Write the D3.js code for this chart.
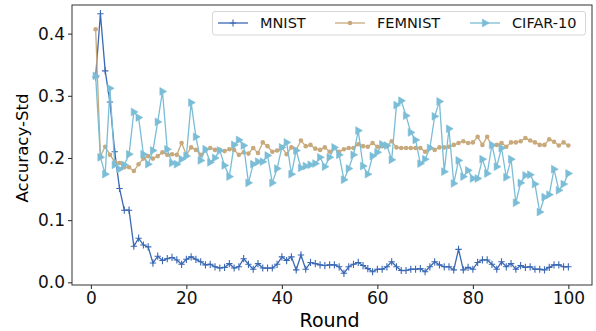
<!DOCTYPE html>
<html>
<head>
<meta charset="utf-8">
<script src="https://cdn.jsdelivr.net/npm/d3@7"></script>
<style>
  body { margin: 0; background: #fff; }
  svg { font-family: 'DejaVu Sans', sans-serif; }
</style>
</head>
<body>
<div id="chart"></div>
<script>
// rounds 1..100
const rounds = d3.range(1, 101);

const mnist = [
  0.33, 0.432, 0.34, 0.29, 0.21, 0.151, 0.116, 0.116, 0.058, 0.071,
  0.06, 0.057, 0.031, 0.042, 0.035, 0.038, 0.04, 0.036, 0.029, 0.037,
  0.041, 0.037, 0.033, 0.028, 0.029, 0.025, 0.023, 0.024, 0.030, 0.023,
  0.025, 0.038, 0.029, 0.021, 0.030, 0.023, 0.023, 0.023, 0.029, 0.041,
  0.035, 0.041, 0.020, 0.044, 0.021, 0.032, 0.030, 0.028, 0.027, 0.028,
  0.028, 0.025, 0.0145, 0.025, 0.029, 0.032, 0.027, 0.022, 0.017, 0.021,
  0.021, 0.025, 0.033, 0.025, 0.019, 0.019, 0.021, 0.021, 0.022, 0.017,
  0.025, 0.033, 0.028, 0.025, 0.025, 0.020, 0.053, 0.020, 0.024, 0.021,
  0.032, 0.036, 0.036, 0.029, 0.021, 0.033, 0.025, 0.030, 0.021, 0.027,
  0.024, 0.025, 0.021, 0.021, 0.020, 0.024, 0.028, 0.028, 0.025, 0.025
];

const femnist = [
  0.407, 0.203, 0.218, 0.205, 0.194, 0.192, 0.185, 0.185, 0.179, 0.190,
  0.199, 0.203, 0.199, 0.203, 0.209, 0.205, 0.206, 0.205, 0.224, 0.205,
  0.217, 0.213, 0.205, 0.212, 0.216, 0.213, 0.213, 0.211, 0.214, 0.213,
  0.205, 0.209, 0.207, 0.216, 0.208, 0.225, 0.219, 0.210, 0.212, 0.217,
  0.206, 0.217, 0.213, 0.228, 0.219, 0.221, 0.215, 0.213, 0.217, 0.210,
  0.216, 0.210, 0.214, 0.216, 0.216, 0.222, 0.219, 0.218, 0.224, 0.218,
  0.219, 0.219, 0.227, 0.217, 0.216, 0.216, 0.216, 0.216, 0.216, 0.210,
  0.217, 0.213, 0.217, 0.217, 0.218, 0.221, 0.224, 0.227, 0.224, 0.225,
  0.234, 0.221, 0.234, 0.219, 0.221, 0.224, 0.218, 0.225, 0.225, 0.227,
  0.232, 0.228, 0.225, 0.221, 0.221, 0.230, 0.226, 0.220, 0.225, 0.220
];

const cifar = [
  0.332, 0.201, 0.174, 0.312, 0.189, 0.182, 0.189, 0.206, 0.274, 0.265,
  0.206, 0.190, 0.212, 0.258, 0.307, 0.214, 0.192, 0.190, 0.198, 0.203,
  0.289, 0.234, 0.196, 0.214, 0.193, 0.200, 0.212, 0.188, 0.170, 0.221,
  0.229, 0.220, 0.160, 0.190, 0.194, 0.194, 0.204, 0.160, 0.183, 0.217,
  0.225, 0.174, 0.212, 0.184, 0.187, 0.189, 0.191, 0.201, 0.186, 0.201,
  0.217, 0.205, 0.165, 0.183, 0.205, 0.244, 0.187, 0.174, 0.203, 0.209,
  0.222, 0.220, 0.197, 0.285, 0.292, 0.268, 0.241, 0.229, 0.191, 0.198,
  0.216, 0.267, 0.291, 0.178, 0.247, 0.159, 0.196, 0.170, 0.180, 0.167,
  0.167, 0.198, 0.175, 0.221, 0.186, 0.216, 0.169, 0.198, 0.128, 0.160,
  0.172, 0.173, 0.158, 0.113, 0.137, 0.141, 0.182, 0.148, 0.158, 0.175
];

const seriesNames = ['MNIST', 'FEMNIST', 'CIFAR-10'];
const seriesColors = ['#3a68b4', '#c8a97c', '#7bbdd6'];
const seriesMarkers = ['plus', 'dot', 'tri'];
const xTicks = [0, 20, 40, 60, 80, 100];
const yTicks = [0.0, 0.1, 0.2, 0.3, 0.4];

const width = 596, height = 331;
const margin = { top: 5, right: 4, bottom: 46, left: 72 };

const svg = d3.select('#chart')
  .append('svg')
  .attr('width', width)
  .attr('height', height);

const x = d3.scaleLinear()
  .domain([-3.95, 104.95])
  .range([margin.left, width - margin.right]);

const y = d3.scaleLinear()
  .domain([-0.0043, 0.446])
  .range([height - margin.bottom, margin.top]);

// axes
const xAxis = svg.append('g')
  .attr('transform', `translate(0, ${height - margin.bottom})`)
  .call(d3.axisBottom(x).tickValues(xTicks).tickFormat(d3.format('d')).tickSize(4).tickPadding(3));

const yAxis = svg.append('g')
  .attr('transform', `translate(${margin.left}, 0)`)
  .call(d3.axisLeft(y).tickValues(yTicks).tickFormat(d3.format('.1f')).tickSize(4).tickPadding(3));

[xAxis, yAxis].forEach(a => {
  a.select('.domain').remove();
  a.selectAll('line').attr('stroke', '#222').attr('stroke-width', 1);
  a.selectAll('text')
    .attr('fill', '#111')
    .style('font-size', '17px')
    .style('font-family', 'DejaVu Sans, sans-serif');
});

// frame
svg.append('rect')
  .attr('x', margin.left)
  .attr('y', margin.top)
  .attr('width', width - margin.left - margin.right)
  .attr('height', height - margin.top - margin.bottom)
  .attr('fill', 'none')
  .attr('stroke', '#333')
  .attr('stroke-width', 1);

// axis labels
svg.append('text')
  .attr('x', x(50))
  .attr('y', 327)
  .attr('text-anchor', 'middle')
  .style('font-size', '19px')
  .text('Round');

svg.append('text')
  .attr('transform', `translate(28, ${(margin.top + height - margin.bottom) / 2 + 3}) rotate(-90)`)
  .attr('text-anchor', 'middle')
  .style('font-size', '16.6px')
  .text('Accuracy-Std');

// marker drawing
function drawMarker(g, type, color) {
  if (type === 'plus') {
    g.append('path')
      .attr('d', 'M0,-3.6V3.6M-3.2,0H3.2')
      .attr('stroke', color)
      .attr('stroke-width', 1.1);
  } else if (type === 'dot') {
    g.append('circle')
      .attr('r', 2.3)
      .attr('fill', color);
  } else {
    g.append('path')
      .attr('d', 'M4.2,0L-2.6,-3.9L-2.6,3.9Z')
      .attr('fill', color)
      .attr('stroke', color)
      .attr('stroke-width', 0.6);
  }
}

const line = d3.line()
  .x((d, i) => x(rounds[i]))
  .y(d => y(d));

const allSeries = [mnist, femnist, cifar];

allSeries.forEach((data, k) => {
  const g = svg.append('g').attr('class', 'series');
  g.append('path')
    .datum(data)
    .attr('fill', 'none')
    .attr('stroke', seriesColors[k])
    .attr('stroke-width', 1.3)
    .attr('d', line);

  data.forEach((d, i) => {
    const m = g.append('g')
      .attr('transform', `translate(${x(rounds[i])}, ${y(d)})`);
    drawMarker(m, seriesMarkers[k], seriesColors[k]);
  });
});

/** LEGEND */
const legend = svg.append('g');
legend.append('rect')
  .attr('x', 212.5)
  .attr('y', 11.5)
  .attr('width', 373)
  .attr('height', 23.5)
  .attr('rx', 2.5)
  .attr('fill', '#fff')
  .attr('fill-opacity', 0.8)
  .attr('stroke', '#d6d6d6')
  .attr('stroke-width', 1);

const legendX = [218, 335, 470];
seriesNames.forEach((name, k) => {
  const lx = legendX[k];
  legend.append('line')
    .attr('x1', lx).attr('x2', lx + 30)
    .attr('y1', 23).attr('y2', 23)
    .attr('stroke', seriesColors[k])
    .attr('stroke-width', 1.3);
  const m = legend.append('g').attr('transform', `translate(${lx + 15}, 23)`);
  drawMarker(m, seriesMarkers[k], seriesColors[k]);
  legend.append('text')
    .attr('x', lx + 42)
    .attr('y', 28)
    .style('font-size', '14.5px')
    .attr('fill', '#111')
    .text(name);
});
</script>
</body>
</html>
